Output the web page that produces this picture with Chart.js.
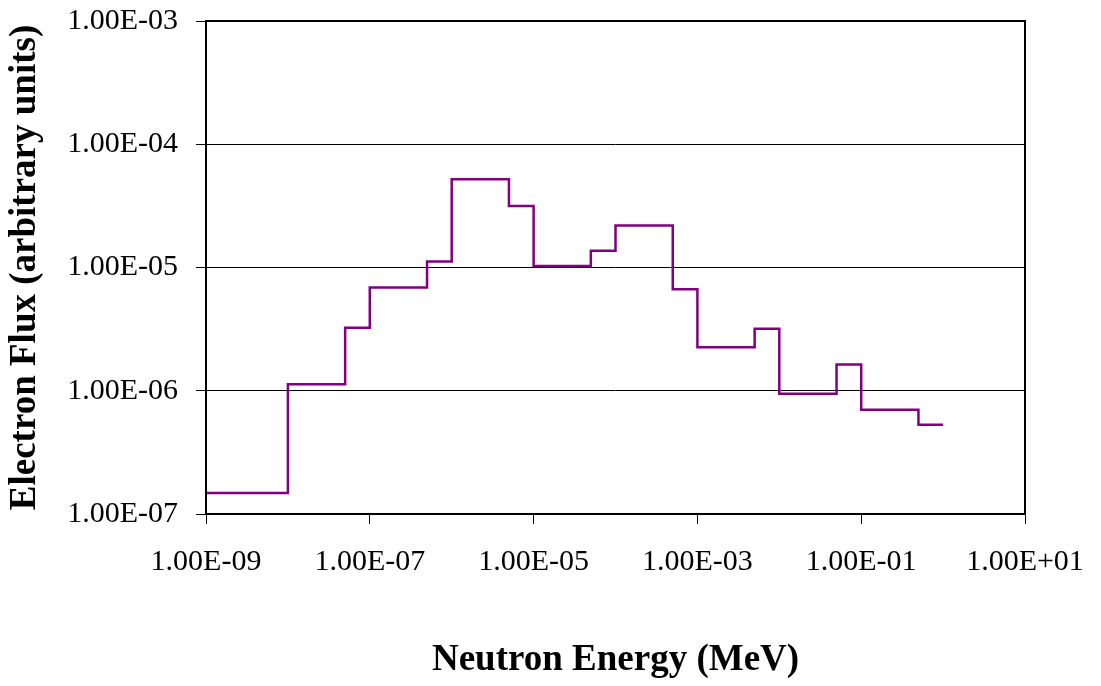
<!DOCTYPE html>
<html>
<head>
<meta charset="utf-8">
<script src="https://cdn.jsdelivr.net/npm/chart.js@4/dist/chart.umd.min.js"></script>
<style>
  html, body { margin: 0; padding: 0; background: #fff; }
  canvas { display: block; }
</style>
</head>
<body>
<canvas id="chart" width="1101" height="686"></canvas>
<script>
// Energy group boundaries (MeV) and flux per group
const binEdges = [1e-9, 1e-8, 5e-8, 1e-7, 5e-7, 1e-6, 5e-6, 1e-5, 5e-5, 1e-4, 5e-4, 1e-3, 5e-3, 1e-2, 5e-2, 1e-1, 5e-1, 1];
const flux = [1.48e-7, 1.13e-6, 3.25e-6, 6.87e-6, 1.12e-5, 5.2e-5, 3.16e-5, 1.03e-5, 1.37e-5, 2.19e-5, 6.65e-6, 2.25e-6, 3.19e-6, 9.45e-7, 1.63e-6, 7.0e-7, 5.3e-7];

// Axis tick positions
const xTicks = [1e-9, 1e-7, 1e-5, 1e-3, 1e-1, 1e1];
const yTicks = [1e-7, 1e-6, 1e-5, 1e-4, 1e-3];

const xTitle = 'Neutron Energy (MeV)';
const yTitle = 'Electron Flux (arbitrary units)';

// Histogram points: each group's value held until the next boundary
const points = flux.map((v, i) => ({ x: binEdges[i], y: v }));
points.push({ x: binEdges[binEdges.length - 1], y: flux[flux.length - 1] });

// Spreadsheet-style scientific notation, e.g. 1.00E-05
function sci(v) {
  const [m, e] = Number(v).toExponential(2).split('e');
  const n = parseInt(e, 10);
  const sign = n < 0 ? '-' : '+';
  return m + 'E' + sign + String(Math.abs(n)).padStart(2, '0');
}

const serif = '"Liberation Serif", "Times New Roman", serif';

// Black frame around the plotting area
const frame = {
  id: 'frame',
  afterDatasetsDraw(chart) {
    const { ctx, chartArea: a } = chart;
    ctx.save();
    ctx.strokeStyle = '#000';
    ctx.lineWidth = 2;
    ctx.strokeRect(a.left, a.top, a.right - a.left, a.bottom - a.top);
    ctx.restore();
  }
};

new Chart(document.getElementById('chart'), {
  type: 'scatter',
  data: {
    datasets: [{
      data: points,
      showLine: true,
      stepped: 'before',
      borderColor: '#800080',
      borderWidth: 2.5,
      pointRadius: 0,
      fill: false
    }]
  },
  options: {
    responsive: false,
    animation: false,
    devicePixelRatio: 1,
    layout: { padding: { top: 21, right: 76, bottom: 0, left: 0 } },
    plugins: {
      legend: { display: false },
      tooltip: { enabled: false }
    },
    scales: {
      x: {
        type: 'logarithmic',
        min: 1e-9,
        max: 1e1,
        afterBuildTicks(scale) { scale.ticks = xTicks.map(v => ({ value: v })); },
        afterFit(scale) {
          scale.height = 172;
          scale.paddingLeft = 0;
          scale.paddingRight = 0;
        },
        grid: { drawOnChartArea: false, color: '#000', tickLength: 10, lineWidth: 1 },
        border: { display: false },
        ticks: {
          autoSkip: false,
          maxRotation: 0,
          padding: 20,
          color: '#000',
          font: { family: serif, size: 30 },
          callback: v => sci(v)
        },
        title: {
          display: true,
          text: xTitle,
          color: '#000',
          font: { family: serif, size: 37, weight: 'bold' },
          padding: { top: 0, bottom: 3 }
        }
      },
      y: {
        type: 'logarithmic',
        min: 1e-7,
        max: 1e-3,
        afterBuildTicks(scale) { scale.ticks = yTicks.map(v => ({ value: v })); },
        afterFit(scale) {
          scale.width = 206;
          scale.paddingTop = 0;
          scale.paddingBottom = 0;
        },
        grid: { color: '#000', tickLength: 10, lineWidth: 1 },
        border: { display: false },
        ticks: {
          autoSkip: false,
          padding: 18,
          color: '#000',
          font: { family: serif, size: 30 },
          callback: v => sci(v)
        },
        title: {
          display: true,
          text: yTitle,
          color: '#000',
          font: { family: serif, size: 37, weight: 'bold' },
          padding: { top: 3, bottom: 0 }
        }
      }
    }
  },
  plugins: [frame]
});
</script>
</body>
</html>
